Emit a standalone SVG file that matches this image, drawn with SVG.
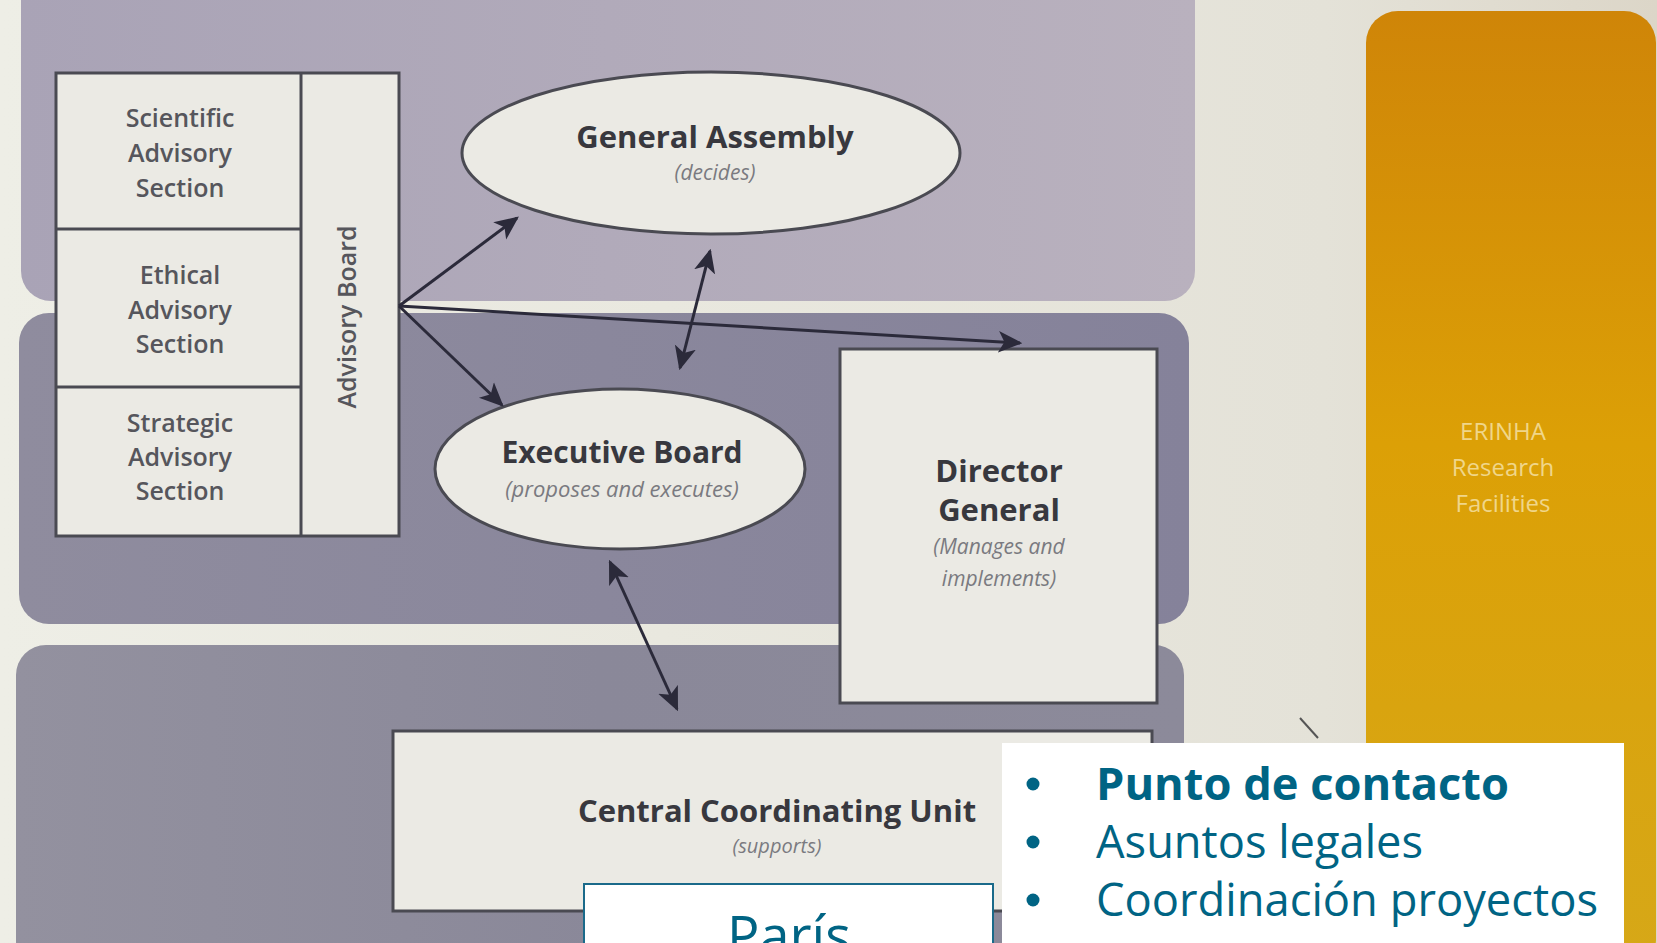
<svg xmlns="http://www.w3.org/2000/svg" width="1657" height="943" viewBox="0 0 1657 943">
<defs>
<linearGradient id="gTop" x1="0" y1="0" x2="1" y2="0"><stop offset="0" stop-color="#a9a3b6"/><stop offset="1" stop-color="#b9b1be"/></linearGradient>
<linearGradient id="gMid" x1="0" y1="0" x2="1" y2="0"><stop offset="0" stop-color="#8f8c9e"/><stop offset="1" stop-color="#85829a"/></linearGradient>
<linearGradient id="gBot" x1="0" y1="0" x2="1" y2="0"><stop offset="0" stop-color="#93919f"/><stop offset="0.5" stop-color="#8a8899"/><stop offset="1" stop-color="#8c8a9a"/></linearGradient>
<linearGradient id="gOr" x1="0" y1="0" x2="0" y2="1"><stop offset="0" stop-color="#cf8508"/><stop offset="0.45" stop-color="#dca006"/><stop offset="1" stop-color="#d6a818"/></linearGradient>
<linearGradient id="gBg" x1="0" y1="0" x2="1" y2="0"><stop offset="0" stop-color="#eeeee6"/><stop offset="0.8" stop-color="#e4e2d8"/><stop offset="1" stop-color="#dcd6c8"/></linearGradient>
<marker id="ah" viewBox="0 0 20 20" refX="18" refY="10" markerWidth="24" markerHeight="24" markerUnits="userSpaceOnUse" orient="auto-start-reverse"><path d="M0,1 L20,10 L0,19 L5,10 Z" fill="#2b2a3a"/></marker>
<style>
.lbl{font-family:"Open Sans","Noto Sans",sans-serif;fill:#56565c;font-size:25px;font-weight:600;text-anchor:middle}
.ttl{font-family:"Open Sans","Noto Sans",sans-serif;font-weight:700;fill:#38383e;text-anchor:middle}
.sub{font-family:"Open Sans","Noto Sans",sans-serif;font-style:italic;fill:#7a7a80;text-anchor:middle}
.box{fill:#ebeae4;stroke:#4a4a52;stroke-width:3}
.con{stroke:#2b2a3a;stroke-width:3;fill:none}
.blt{font-family:"Open Sans","Noto Sans",sans-serif;fill:#006484;font-size:45px}
</style>
</defs>
<rect x="0" y="0" width="1657" height="943" fill="url(#gBg)"/>
<g id="bands">
<rect x="21" y="-30" width="1174" height="331" rx="30" fill="url(#gTop)"/>
<rect x="19" y="313" width="1170" height="311" rx="30" fill="url(#gMid)"/>
<rect x="16" y="645" width="1168" height="330" rx="30" fill="url(#gBot)"/>
</g>
<g id="erinha">
<rect x="1366" y="11" width="290" height="960" rx="32" fill="url(#gOr)"/>
<text x="1503" y="440" font-family="Open Sans, sans-serif" font-size="24" fill="#f0d68a" text-anchor="middle">ERINHA</text>
<text x="1503" y="476" font-family="Open Sans, sans-serif" font-size="24" fill="#f0d68a" text-anchor="middle">Research</text>
<text x="1503" y="512" font-family="Open Sans, sans-serif" font-size="24" fill="#f0d68a" text-anchor="middle">Facilities</text>
</g>
<g id="advisory">
<rect class="box" x="56" y="73" width="343" height="463"/>
<line x1="301" y1="73" x2="301" y2="536" stroke="#4a4a52" stroke-width="3"/>
<line x1="56" y1="229" x2="301" y2="229" stroke="#4a4a52" stroke-width="3"/>
<line x1="56" y1="387" x2="301" y2="387" stroke="#4a4a52" stroke-width="3"/>
<text class="lbl" x="180" y="127">Scientific</text>
<text class="lbl" x="180" y="162">Advisory</text>
<text class="lbl" x="180" y="197">Section</text>
<text class="lbl" x="180" y="284">Ethical</text>
<text class="lbl" x="180" y="319">Advisory</text>
<text class="lbl" x="180" y="353">Section</text>
<text class="lbl" x="180" y="432">Strategic</text>
<text class="lbl" x="180" y="466">Advisory</text>
<text class="lbl" x="180" y="500">Section</text>
<text class="lbl" x="0" y="0" transform="translate(356,317) rotate(-90)">Advisory Board</text>
</g>
<g id="general-assembly">
<ellipse cx="711" cy="153" rx="249" ry="81" fill="#ebeae4" stroke="#4a4a52" stroke-width="3"/>
<text class="ttl" x="715" y="148" font-size="31">General Assembly</text>
<text class="sub" x="715" y="180" font-size="21">(decides)</text>
</g>
<g id="executive-board">
<ellipse cx="620" cy="469" rx="185" ry="80" fill="#ebeae4" stroke="#4a4a52" stroke-width="3"/>
<text class="ttl" x="622" y="463" font-size="30">Executive Board</text>
<text class="sub" x="622" y="497" font-size="22">(proposes and executes)</text>
</g>
<g id="director-general">
<rect class="box" x="840" y="349" width="317" height="354"/>
<text class="ttl" x="999" y="482" font-size="31">Director</text>
<text class="ttl" x="999" y="521" font-size="31">General</text>
<text class="sub" x="999" y="554" font-size="21">(Manages and</text>
<text class="sub" x="999" y="586" font-size="21">implements)</text>
</g>
<g id="central-coordinating-unit">
<rect class="box" x="393" y="731" width="759" height="180"/>
<text class="ttl" x="777" y="822" font-size="31">Central Coordinating Unit</text>
<text class="sub" x="777" y="853" font-size="20">(supports)</text>
</g>
<g id="connectors">
<line class="con" x1="399" y1="306" x2="517" y2="218" marker-end="url(#ah)"/>
<line class="con" x1="399" y1="306" x2="502" y2="405" marker-end="url(#ah)"/>
<line class="con" x1="399" y1="306" x2="1020" y2="343" marker-end="url(#ah)"/>
<line class="con" x1="710" y1="251" x2="680" y2="368" marker-start="url(#ah)" marker-end="url(#ah)"/>
<line class="con" x1="610" y1="562" x2="677" y2="709" marker-start="url(#ah)" marker-end="url(#ah)"/>
<path d="M1300,718 L1318,738" stroke="#555" stroke-width="2" fill="none"/>
</g>
<g id="bullets">
<rect x="1002" y="743" width="622" height="210" fill="#ffffff"/>
<circle cx="1033" cy="784" r="6.5" fill="#006484"/>
<circle cx="1033" cy="842" r="6.5" fill="#006484"/>
<circle cx="1033" cy="900" r="6.5" fill="#006484"/>
<text class="blt" x="1096" y="800" font-weight="700" textLength="413" lengthAdjust="spacingAndGlyphs">Punto de contacto</text>
<text class="blt" x="1096" y="858" textLength="327" lengthAdjust="spacingAndGlyphs">Asuntos legales</text>
<text class="blt" x="1096" y="916" textLength="502" lengthAdjust="spacingAndGlyphs">Coordinación proyectos</text>
</g>
<g id="paris">
<rect x="584" y="884" width="409" height="80" fill="#ffffff" stroke="#1a6a8a" stroke-width="2"/>
<text x="789" y="955" font-family="Open Sans, Noto Sans, sans-serif" font-size="54" fill="#006484" text-anchor="middle">París</text>
</g>
</svg>
